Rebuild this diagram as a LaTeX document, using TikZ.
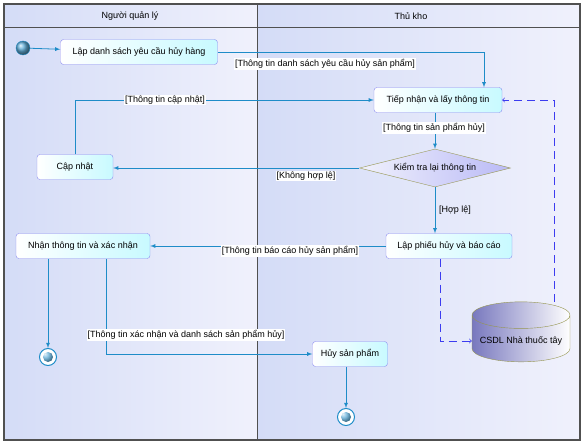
\documentclass[tikz,border=0pt]{standalone}
\usepackage{fontspec}
\setmainfont{Liberation Sans}
\usetikzlibrary{shapes}

\definecolor{flow}{RGB}{30,140,200}
\definecolor{actborder}{RGB}{140,140,240}
\definecolor{actfill}{RGB}{200,250,255}
\definecolor{dbline}{RGB}{60,60,240}
\definecolor{olivegray}{RGB}{150,150,80}
\definecolor{lanebg}{RGB}{212,220,247}
\definecolor{lanebg2}{RGB}{240,241,252}
\definecolor{framegray}{RGB}{80,80,80}
\definecolor{dbfill}{RGB}{120,120,190}

\begin{document}
\begin{tikzpicture}[x=1pt,y=-1pt,font=\fontsize{9}{11}\selectfont]
\tikzset{
	activity/.style={draw=actborder,
		rounded corners=3pt,
		left color=white,
		right color=actfill,
		minimum height=25pt,
		inner sep=2pt},
	decision/.style={draw=olivegray,
		shape=diamond,
		aspect=4,
		left color=lanebg2,
		right color=actborder!60,
		minimum width=151pt,
		minimum height=38pt,
		inner sep=0pt},
	database/.style={draw=olivegray,
		shape=cylinder,
		shape border rotate=90,
		aspect=0.3,
		left color=dbfill,
		right color=white,
		minimum width=98pt,
		minimum height=60pt},
	initial/.style={circle, draw=flow, shading=ball, ball color=flow!70, minimum size=14pt, inner sep=0pt},
	final/.style={circle, draw=flow, line width=1pt, fill=white, minimum size=17pt, inner sep=0pt,
		path picture={\shade[ball color=flow!70] (path picture bounding box.center) circle (5pt);}},
	flowline/.style={draw=flow, line width=0.8pt, -latex},
	dbflow/.style={draw=dbline, line width=0.8pt, dash pattern=on 8pt off 5pt, ->},
	lbl/.style={fill=white, inner sep=1pt}
}

\useasboundingbox (0,0) rectangle (586,444);
% swimlanes
\shade[left color=lanebg, right color=lanebg2] (4,4) rectangle (257,440);
\shade[left color=lanebg, right color=lanebg2] (257,4) rectangle (580,440);
\draw[framegray, line width=1.2pt] (4,4) rectangle (580,440);
\draw[framegray, line width=1pt] (4,28) -- (580,28);
\draw[framegray, line width=1pt] (257,4) -- (257,440);
\node (LANE1) at (130,16) {Người quản lý};
\node (LANE2) at (411,16) {Thủ kho};

% activities
\node[initial] (start) at (23,48) {};
\node[activity, minimum width=157pt] (lap) at (139,52) {Lập danh sách yêu cầu hủy hàng};
\node[activity, minimum width=128pt] (tiep) at (438,100) {Tiếp nhận và lấy thông tin};
\node[activity, minimum width=76pt] (capnhat) at (75,167) {Cập nhật};
\node[decision] (kiemtra) at (435,168) {Kiểm tra lại thông tin};
\node[activity, minimum width=126pt] (lapphieu) at (449,246) {Lập phiếu hủy và báo cáo};
\node[activity, minimum width=134pt] (nhan) at (83,246) {Nhận thông tin và xác nhận};
\node[final] (end1) at (48,357) {};
\node[activity, minimum width=75pt] (huy) at (350,354) {Hủy sản phẩm};
\node[final] (end2) at (346,417) {};
\node[database] (csdl) at (521,341) {CSDL Nhà thuốc tây};

% flows
\draw[flowline] (start) -- (lap);
\draw[flowline] (lap.east) -| ([xshift=46pt]tiep.north);
\draw[flowline] (capnhat.north) |- (tiep.west);
\draw[flowline] (tiep.south -| kiemtra.north) -- (kiemtra.north);
\draw[flowline] (kiemtra.west) -- (kiemtra.west -| capnhat.east);
\draw[flowline] (kiemtra.south) -- (kiemtra.south |- lapphieu.north);
\draw[flowline] (lapphieu.west) -- (lapphieu.west -| nhan.east);
\draw[flowline] ([xshift=-35pt]nhan.south) -- (end1);
\draw[flowline] ([xshift=23pt]nhan.south) |- (huy.west);
\draw[flowline] (huy.south -| end2.north) -- (end2);
\draw[dbflow] ([xshift=-9pt]lapphieu.south) |- (csdl.west);
\draw[dbflow] ([xshift=33pt]csdl.north) |- (tiep.east);

% guards
\node[lbl] (G1) at (325,64) {[Thông tin danh sách yêu cầu hủy sản phẩm]};
\node[lbl] (G2) at (165,100) {[Thông tin cập nhật]};
\node[lbl] (G3) at (434,128) {[Thông tin sản phẩm hủy]};
\node[lbl] (G4) at (306,176) {[Không hợp lệ]};
\node (G5) at (455,210) {[Hợp lệ]};
\node[lbl] (G6) at (290,251) {[Thông tin báo cáo hủy sản phẩm]};
\node[lbl] (G7) at (186,335) {[Thông tin xác nhận và danh sách sản phẩm hủy]};
\end{tikzpicture}
\end{document}
